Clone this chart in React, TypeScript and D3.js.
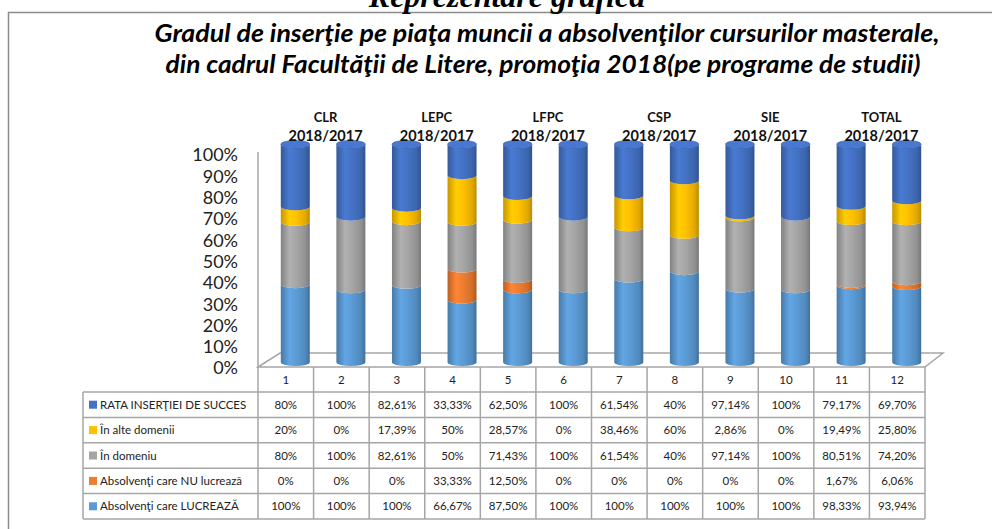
import React, { useEffect, useRef } from "react";
import * as d3 from "d3";

// table columns (one per cylinder) and the program groups above them
const columns = ["1", "2", "3", "4", "5", "6", "7", "8", "9", "10", "11", "12"];
const programs = ["CLR", "LEPC", "LFPC", "CSP", "SIE", "TOTAL"];
const cohort = "2018/2017";

// series values, as printed in the data table (percent)
const rataInsertiei = [80, 100, 82.61, 33.33, 62.5, 100, 61.54, 40, 97.14, 100, 79.17, 69.7];
const inAlteDomenii = [20, 0, 17.39, 50, 28.57, 0, 38.46, 60, 2.86, 0, 19.49, 25.8];
const inDomeniu = [80, 100, 82.61, 50, 71.43, 100, 61.54, 40, 97.14, 100, 80.51, 74.2];
const nuLucreaza = [0, 0, 0, 33.33, 12.5, 0, 0, 0, 0, 0, 1.67, 6.06];
const lucreaza = [100, 100, 100, 66.67, 87.5, 100, 100, 100, 100, 100, 98.33, 93.94];

const yTicks = [0, 0.1, 0.2, 0.3, 0.4, 0.5, 0.6, 0.7, 0.8, 0.9, 1];

// stacking order, bottom to top
const series = [
  { key: "lucreaza", name: "Absolvenţi care LUCREAZĂ", values: lucreaza, color: "#5B9BD5" },
  { key: "nu", name: "Absolvenţi care NU lucrează", values: nuLucreaza, color: "#ED7D31" },
  { key: "domeniu", name: "În domeniu", values: inDomeniu, color: "#A5A5A5" },
  { key: "alte", name: "În alte domenii", values: inAlteDomenii, color: "#FFC000" },
  { key: "rata", name: "RATA INSERŢIEI DE SUCCES", values: rataInsertiei, color: "#4472C4" },
];

const FONT = "Lato, 'Liberation Sans', sans-serif";

const fmt = (v) =>
  Number.isInteger(v) ? `${v}%` : `${v.toFixed(2).replace(".", ",")}%`;

const App = () => {
  const ref = useRef(null);

  useEffect(() => {
    if (ref.current) draw(ref.current);
  }, []);

  return (
    <svg
      ref={ref}
      width={992}
      height={529}
      style={{ position: "absolute", left: 0, top: 0, background: "#fff" }}
    />
  );
};

function draw(node) {
  const svg = d3.select(node);
  svg.selectAll("*").remove();

  const lineColor = "#a6a6a6";

  // frame around the chart area
  svg
    .append("path")
    .attr("d", "M8.5,540 L8.5,12.5 L1000,12.5")
    .attr("fill", "none")
    .attr("stroke", "#8c8c8c")
    .attr("stroke-width", 1.5);

  // heading of the page, cut by the top edge as in the source
  svg
    .append("text")
    .attr("x", 507)
    .attr("y", 6.5)
    .attr("text-anchor", "middle")
    .style("font-family", "'Liberation Serif', 'Times New Roman', serif")
    .style("font-weight", "bold")
    .style("font-style", "italic")
    .style("font-size", "32px")
    .text("Reprezentare grafică");

  // chart title
  const titleLines = [
    { text: "Gradul de inserţie pe piaţa muncii a absolvenţilor cursurilor masterale,", cx: 547, w: 785 },
    { text: "din cadrul Facultăţii de Litere, promoţia 2018(pe programe de studii)", cx: 543, w: 755 },
  ];
  svg
    .selectAll(".title")
    .data(titleLines)
    .enter()
    .append("text")
    .attr("x", (d) => d.cx)
    .attr("y", (d, i) => 42 + i * 31)
    .attr("text-anchor", "middle")
    .attr("textLength", (d) => d.w)
    .attr("lengthAdjust", "spacingAndGlyphs")
    .style("font-family", FONT)
    .style("font-weight", "bold")
    .style("font-style", "italic")
    .style("font-size", "24px")
    .text((d) => d.text);

  // scales
  const x = d3.scaleBand().domain(columns).range([258, 925]).paddingInner(0).paddingOuter(0);
  const bw = x.bandwidth();
  const depthX = 22;
  const depthY = 14;
  const floorY = 367;
  const yAxis = d3.scaleLinear().domain([0, 1]).range([368, 155]);
  const yCyl = d3.scaleLinear().domain([0, 1]).range([366, 148]);
  const rx = 14.5;
  const ry = 3.8;
  const cx = (c) => x(c) + bw / 2 + 9.5;

  // stacked, normalised to 100%
  const rows = columns.map((c, i) => {
    const r = { col: c };
    series.forEach((s) => (r[s.key] = s.values[i]));
    return r;
  });
  const stacked = d3
    .stack()
    .keys(series.map((s) => s.key))
    .offset(d3.stackOffsetExpand)(rows);

  // gradients for the cylinder shading
  const defs = svg.append("defs");
  series.forEach((s) => {
    const base = d3.color(s.color);
    const g = defs
      .append("linearGradient")
      .attr("id", `cyl-${s.key}`)
      .attr("x1", 0)
      .attr("x2", 1)
      .attr("y1", 0)
      .attr("y2", 0);
    [
      [0, base.darker(0.7)],
      [0.3, base.brighter(0.2)],
      [0.55, base],
      [0.85, base.darker(0.35)],
      [1, base.darker(0.9)],
    ].forEach(([o, c]) => {
      g.append("stop").attr("offset", o).attr("stop-color", c.formatHex());
    });
  });

  // floor
  svg
    .append("path")
    .attr(
      "d",
      `M${x.range()[0]},${floorY} L${x.range()[0] + depthX},${floorY - depthY} L${
        x.range()[1] + depthX - 4
      },${floorY - depthY} L${x.range()[1]},${floorY} Z`
    )
    .attr("fill", "#fff")
    .attr("stroke", lineColor)
    .attr("stroke-width", 1.5);

  // y axis line
  svg
    .append("line")
    .attr("x1", 258)
    .attr("x2", 258)
    .attr("y1", 152)
    .attr("y2", floorY)
    .attr("stroke", lineColor)
    .attr("stroke-width", 1.5);

  // y axis labels
  svg
    .selectAll(".ytick")
    .data(yTicks)
    .enter()
    .append("text")
    .attr("x", 238)
    .attr("y", (d) => yAxis(d))
    .attr("dy", "0.36em")
    .attr("text-anchor", "end")
    .style("font-family", FONT)
    .style("font-size", "18px")
    .attr("fill", "#222")
    .text((d) => d3.format(".0%")(d));

  // cylinders
  const segPath = (c, v0, v1) => {
    const l = cx(c) - rx;
    const r = cx(c) + rx;
    const yt = yCyl(v1) - ry;
    const yb = yCyl(v0) - ry;
    return `M${l},${yt} A${rx},${ry} 0 0 0 ${r},${yt} L${r},${yb} A${rx},${ry} 0 0 1 ${l},${yb} Z`;
  };

  stacked.forEach((layer, si) => {
    svg
      .append("g")
      .selectAll("path")
      .data(layer.filter((d) => d[1] - d[0] > 0))
      .enter()
      .append("path")
      .attr("d", (d) => segPath(d.data.col, d[0], d[1]))
      .attr("fill", `url(#cyl-${series[si].key})`);
  });

  // top caps
  const topColor = d3.color(series[series.length - 1].color);
  svg
    .selectAll(".cap")
    .data(columns)
    .enter()
    .append("ellipse")
    .attr("cx", (c) => cx(c))
    .attr("cy", yCyl(1) - ry)
    .attr("rx", rx)
    .attr("ry", ry)
    .attr("fill", topColor.brighter(0.15).formatHex())
    .attr("stroke", topColor.darker(0.4).formatHex())
    .attr("stroke-width", 0.6);

  // program labels above each pair of cylinders
  const groupLabels = svg
    .selectAll(".group")
    .data(programs)
    .enter()
    .append("text")
    .attr("text-anchor", "middle")
    .style("font-family", FONT)
    .style("font-weight", "bold")
    .style("font-size", "14.5px")
    .attr("fill", "#111");
  groupLabels
    .append("tspan")
    .attr("x", (d, i) => x(columns[i * 2 + 1]) + 12)
    .attr("y", 122)
    .style("font-size", "13px")
    .text((d) => d);
  groupLabels
    .append("tspan")
    .attr("x", (d, i) => x(columns[i * 2 + 1]) + 12)
    .attr("y", 141)
    .text(cohort);

  // data table
  const rowTop = 392;
  const rowH = 25.4;
  const tableRows = series.slice().reverse();
  const legendLeft = 83;
  const tableBottom = rowTop + rowH * tableRows.length;

  const grid = svg.append("g").attr("stroke", lineColor).attr("stroke-width", 1.5);
  // vertical column lines
  grid
    .selectAll(".vl")
    .data(d3.range(columns.length + 1))
    .enter()
    .append("line")
    .attr("x1", (i) => 258 + i * bw)
    .attr("x2", (i) => 258 + i * bw)
    .attr("y1", floorY)
    .attr("y2", tableBottom);
  // legend column left edge
  grid
    .append("line")
    .attr("x1", legendLeft)
    .attr("x2", legendLeft)
    .attr("y1", rowTop)
    .attr("y2", tableBottom);
  // horizontal row lines
  grid
    .selectAll(".hl")
    .data(d3.range(tableRows.length + 1))
    .enter()
    .append("line")
    .attr("x1", legendLeft)
    .attr("x2", x.range()[1])
    .attr("y1", (i) => rowTop + i * rowH)
    .attr("y2", (i) => rowTop + i * rowH);

  // header numbers
  svg
    .selectAll(".colhead")
    .data(columns)
    .enter()
    .append("text")
    .attr("x", (c) => x(c) + bw / 2)
    .attr("y", (floorY + rowTop) / 2)
    .attr("dy", "0.36em")
    .attr("text-anchor", "middle")
    .style("font-family", FONT)
    .style("font-size", "11.5px")
    .attr("fill", "#222")
    .text((c) => c);

  const rowsG = svg
    .selectAll(".trow")
    .data(tableRows)
    .enter()
    .append("g")
    .attr("transform", (d, i) => `translate(0,${rowTop + i * rowH + rowH / 2})`);

  rowsG
    .append("rect")
    .attr("x", 89)
    .attr("y", -4)
    .attr("width", 8)
    .attr("height", 8)
    .attr("fill", (d) => d.color);

  rowsG
    .append("text")
    .attr("x", 100)
    .attr("dy", "0.36em")
    .style("font-family", FONT)
    .style("font-size", "11.5px")
    .attr("fill", "#222")
    .text((d) => d.name);

  rowsG
    .selectAll(".cell")
    .data((d) => d.values.map((v, i) => ({ v, c: columns[i] })))
    .enter()
    .append("text")
    .attr("x", (d) => x(d.c) + bw / 2)
    .attr("dy", "0.36em")
    .attr("text-anchor", "middle")
    .style("font-family", FONT)
    .style("font-size", "11.5px")
    .attr("fill", "#222")
    .text((d) => fmt(d.v));
}

export default App;
